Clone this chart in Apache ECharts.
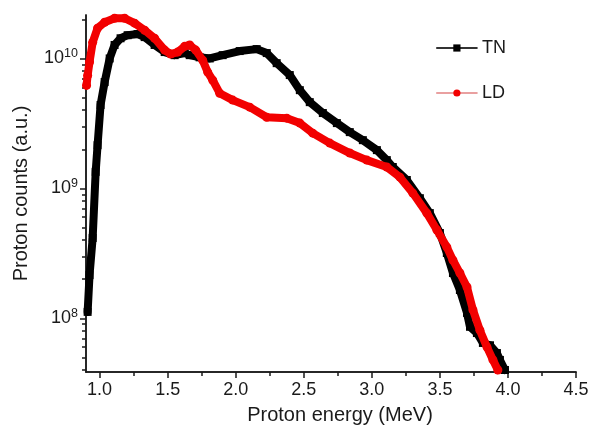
<!DOCTYPE html>
<html><head><meta charset="utf-8">
<script src="https://cdn.jsdelivr.net/npm/echarts@6/dist/echarts.min.js"></script>
<style>html,body{margin:0;padding:0;background:#fff}#c{width:590px;height:432px}</style>
</head><body><div id="c"></div>
<script>
// ---- data ----
const tnEnergy = [0.912,0.926,0.949,0.971,0.985,1.007,1.037,1.074,1.110,1.154,1.206,1.279,1.331,1.404,1.478,1.551,1.625,1.662,1.735,1.809,1.904,2.029,2.154,2.228,2.301,2.397,2.471,2.544,2.640,2.743,2.838,2.934,3.037,3.110,3.154,3.257,3.353,3.426,3.500,3.551,3.596,3.647,3.699,3.721,3.772,3.816,3.868,3.919,3.941,3.978];
const tnCounts = [1.12e8,2.15e8,4.15e8,1.34e9,2.15e9,4.38e9,6.58e9,1.0e10,1.27e10,1.43e10,1.51e10,1.54e10,1.46e10,1.27e10,1.12e10,1.06e10,1.10e10,1.06e10,1.02e10,1.0e10,1.06e10,1.14e10,1.18e10,1.10e10,9.2e9,7.45e9,5.7e9,4.61e9,3.8e9,3.18e9,2.71e9,2.35e9,1.97e9,1.65e9,1.46e9,1.16e9,8.4e8,6.45e8,4.53e8,3.18e8,2.23e8,1.65e8,1.10e8,8.6e7,7.7e7,6.46e7,6.2e7,5.4e7,4.78e7,4.0e7];
const ldEnergy = [0.904,0.912,0.926,0.949,0.985,1.037,1.110,1.184,1.257,1.331,1.404,1.478,1.522,1.574,1.625,1.662,1.706,1.757,1.794,1.831,1.882,1.978,2.103,2.228,2.375,2.471,2.566,2.691,2.838,2.963,3.110,3.206,3.301,3.404,3.478,3.551,3.596,3.647,3.699,3.743,3.794,3.846,3.890,3.926];
const ldCounts = [6.2e9,7.4e9,9.4e9,1.33e10,1.71e10,1.90e10,2.04e10,2.04e10,1.87e10,1.65e10,1.43e10,1.16e10,1.08e10,1.12e10,1.24e10,1.27e10,1.16e10,9.7e9,7.85e9,6.8e9,5.4e9,4.78e9,4.22e9,3.53e9,3.47e9,3.18e9,2.66e9,2.23e9,1.87e9,1.65e9,1.46e9,1.22e9,9.2e8,6.45e8,4.78e8,3.53e8,2.8e8,2.23e8,1.74e8,1.16e8,8.1e7,6.0e7,4.78e7,4.0e7];
const seriesNames = ['TN','LD'];
const xMajorTicks = [1.0,1.5,2.0,2.5,3.0,3.5,4.0,4.5];
const xMinorTicks = [1.25,1.75,2.25,2.75,3.25,3.75,4.25];
const yDecadeTicks = [1e8,1e9,1e10];
const yMinorTicks = [4e7,5e7,6e7,7e7,8e7,9e7,2e8,3e8,4e8,5e8,6e8,7e8,8e8,9e8,2e9,3e9,4e9,5e9,6e9,7e9,8e9,9e9,2e10];
const xRange = [0.9, 4.5];
const yRange = [3.86e7, 2.16e10];
const xTitle = 'Proton energy (MeV)';
const yTitle = 'Proton counts (a.u.)';

// ---- chart ----
const FONT = '"Liberation Sans", Arial, sans-serif';
const TXT = '#1a1a1a';
const lg = v => Math.log10(v);
const pairs = (xs, ys) => xs.map((x, i) => [x, lg(ys[i])]);

const chart = echarts.init(document.getElementById('c'), null, { renderer: 'canvas' });
chart.setOption({
  animation: false,
  backgroundColor: '#fff',
  grid: { left: 86, top: 15, right: 14, bottom: 60, containLabel: false, outerBoundsMode: 'none' },
  xAxis: [
    {
      type: 'value', min: xRange[0], max: xRange[1], position: 'bottom',
      axisLine: { onZero: false, lineStyle: { color: TXT, width: 1.5 } },
      axisTick: { show: true, length: 6, customValues: xMajorTicks, lineStyle: { color: TXT, width: 1.5 } },
      axisLabel: { customValues: xMajorTicks, formatter: v => v.toFixed(1), fontSize: 18, color: TXT, fontFamily: FONT, margin: 9 },
      splitLine: { show: false },
      name: xTitle, nameLocation: 'middle', nameGap: 33,
      nameTextStyle: { fontSize: 20, color: TXT, fontFamily: FONT, padding: [0, 0, 0, 18] }
    },
    {
      type: 'value', min: xRange[0], max: xRange[1], position: 'bottom',
      axisLine: { show: true, onZero: false, lineStyle: { color: TXT, width: 1.5 } },
      axisTick: { show: true, length: 4, customValues: xMinorTicks, lineStyle: { color: TXT, width: 1.5 } },
      axisLabel: { show: true, customValues: xMinorTicks, formatter: () => '' },
      splitLine: { show: false }
    }
  ],
  yAxis: [
    {
      type: 'value', min: lg(yRange[0]), max: lg(yRange[1]), position: 'left',
      axisLine: { show: true, onZero: false, lineStyle: { color: TXT, width: 1.5 } },
      axisTick: { show: true, length: 6, customValues: yDecadeTicks.map(lg), lineStyle: { color: TXT, width: 1.5 } },
      axisLabel: {
        customValues: yDecadeTicks.map(lg), margin: 8,
        formatter: v => '{b|10}{s|' + Math.round(v) + '}',
        rich: {
          b: { fontSize: 18, color: TXT, fontFamily: FONT },
          s: { fontSize: 12.5, color: TXT, fontFamily: FONT, padding: [0, 0, 10, 0] }
        }
      },
      splitLine: { show: false },
      name: yTitle, nameLocation: 'middle', nameGap: 55,
      nameTextStyle: { fontSize: 20, color: TXT, fontFamily: FONT }
    },
    {
      type: 'value', min: lg(yRange[0]), max: lg(yRange[1]), position: 'left',
      axisLine: { show: true, onZero: false, lineStyle: { color: TXT, width: 1.5 } },
      axisTick: { show: true, length: 4, customValues: yMinorTicks.map(lg), lineStyle: { color: TXT, width: 1.5 } },
      axisLabel: { show: true, customValues: yMinorTicks.map(lg), formatter: () => '' },
      splitLine: { show: false }
    }
  ],
  legend: {
    orient: 'vertical', left: 431, top: 34, itemWidth: 40, itemHeight: 9, itemGap: 27,
    textStyle: { fontSize: 18, color: TXT, fontFamily: FONT },
    lineStyle: { width: 1.8 },
    data: [
      { name: seriesNames[0], lineStyle: { color: '#333' } },
      { name: seriesNames[1], lineStyle: { color: '#e9a0a0' } }
    ]
  },
  series: [
    {
      name: seriesNames[0], type: 'line', xAxisIndex: 0, yAxisIndex: 0,
      data: pairs(tnEnergy, tnCounts),
      symbol: 'rect', symbolSize: 8, showAllSymbol: true,
      lineStyle: { width: 8, color: '#000', join: 'round', cap: 'round' },
      itemStyle: { color: '#000' }, z: 2
    },
    {
      name: seriesNames[1], type: 'line', xAxisIndex: 1, yAxisIndex: 1,
      data: pairs(ldEnergy, ldCounts),
      symbol: 'circle', symbolSize: 9, showAllSymbol: true,
      lineStyle: { width: 8, color: '#f20000', join: 'round', cap: 'round' },
      itemStyle: { color: '#f20000' }, z: 3
    }
  ]
});
</script>
</body></html>
